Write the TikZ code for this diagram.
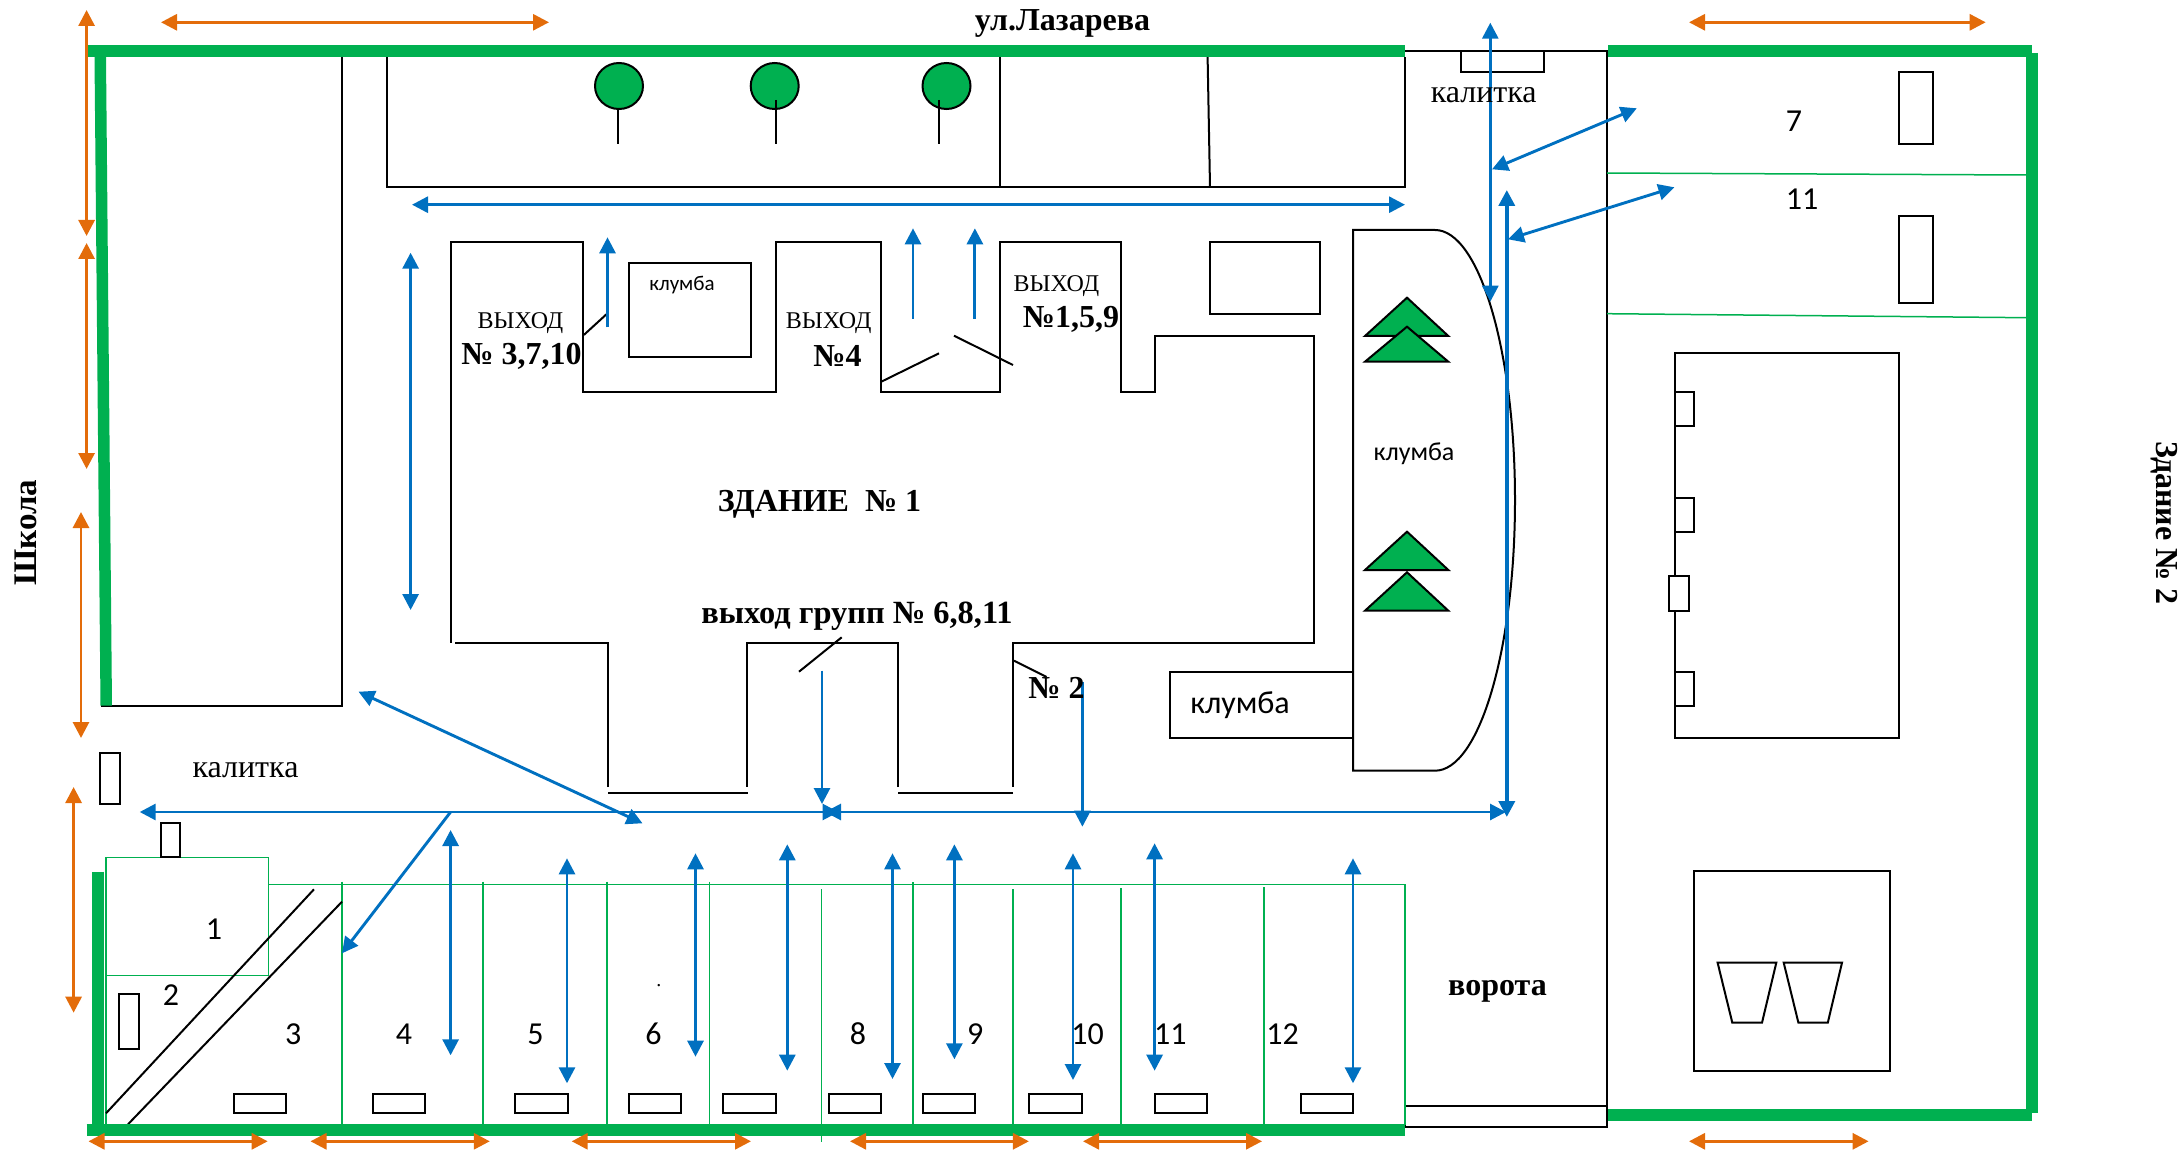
\documentclass[tikz,border=0pt]{standalone}
\usepackage{fontspec}
\setmainfont{Liberation Serif}
\setsansfont{Carlito}
\usetikzlibrary{arrows.meta}
\definecolor{fencegreen}{HTML}{00B050}
\definecolor{pathblue}{HTML}{0070C0}
\definecolor{carorange}{HTML}{E36C0A}
\tikzset{
  wall/.style={draw=black,line width=1pt},
  lotline/.style={draw=fencegreen,line width=0.75pt},
  fence/.style={draw=fencegreen,line width=6pt},
  fencev/.style={draw=fencegreen,line width=5.8pt},
  crown/.style={draw=black,line width=1pt,fill=fencegreen},
  bluedouble/.style={draw=pathblue,line width=1.45pt,{Triangle[length=8pt,width=8pt]}-{Triangle[length=8pt,width=8pt]}},
  blueone/.style={draw=pathblue,line width=1.45pt,-{Triangle[length=8pt,width=8pt]}},
  orangedouble/.style={draw=carorange,line width=1.45pt,{Triangle[length=8pt,width=8pt]}-{Triangle[length=8pt,width=8pt]}},
  txt/.style={inner sep=0pt,font=\fontsize{#1}{#1}\selectfont},
  txtb/.style={inner sep=0pt,font=\fontsize{#1}{#1}\selectfont\bfseries},
  txts/.style={inner sep=0pt,font=\fontsize{#1}{#1}\selectfont\sffamily},
}
\begin{document}
\begin{tikzpicture}[x=0.5pt,y=-0.5pt]
\useasboundingbox (0,0) rectangle (2180,1150);

% --- thin black structures, top
\draw[wall] (342,57) -- (342,705.7) -- (101,705.7);
\draw[wall] (387,57) -- (387,187) -- (1405,187) -- (1405,57);
\draw[wall] (999.5,57) -- (999.5,187);
\draw[wall] (1207.6,57) -- (1210,187);
\draw[wall] (1405,51) -- (1607,51) -- (1607,1126.7) -- (1405,1126.7) -- (1405,1106) -- (1607,1106);
\draw[wall] (1461,51) rectangle (1544,71.7);

% trees
\foreach \cx/\sx/\sy in {619/618/109,774.7/775.6/100,946.5/938.6/100}{
  \draw[crown] (\cx,86) ellipse [x radius=12pt,y radius=11.5pt];
  \draw[wall] (\sx,\sy) -- (\sx,144);
}

% --- building 1
\draw[wall] (450.6,642.7) -- (450.6,242.3) -- (583,242.3) -- (583,391.7) -- (775.6,391.7)
  -- (775.6,242.3) -- (880.8,242.3) -- (880.8,391.7) -- (1000,391.7) -- (1000,242.3)
  -- (1121,242.3) -- (1121,391.7) -- (1154.6,391.7) -- (1154.6,335.7) -- (1314,335.7)
  -- (1314,642.7) -- (1013,642.7) -- (1013,787);
\draw[wall] (1013,792.7) -- (898,792.7);
\draw[wall] (898,787) -- (898,642.7) -- (746.8,642.7) -- (746.8,787);
\draw[wall] (747.7,792.7) -- (607.5,792.7);
\draw[wall] (607.5,787) -- (607.5,642.7) -- (455,642.7);
% door leaves
\draw[wall] (583.8,335) -- (607.5,313.3);
\draw[wall] (881.3,381.7) -- (939,353.3);
\draw[wall] (954,335.7) -- (1013,365);
\draw[wall] (799,671.7) -- (841.7,637.3);
\draw[wall] (1014,660.7) -- (1046.6,677);

% flower beds
\draw[wall] (628.5,263.3) rectangle (751.4,356.7);
\draw[wall] (1210,242) rectangle (1320,314);
\draw[wall] (1353,671.7) -- (1170,671.7) -- (1170,738.3) -- (1353,738.3);
\draw[wall] (1353,230) -- (1435,230) .. controls (1479.2,230) and (1515,351) .. (1515,500)
  .. controls (1515,649.7) and (1479.2,770.7) .. (1435,770.7) -- (1353,770.7) -- cycle;
\foreach \ap/\ba in {297.7/336,326.7/361.7,531.7/570,572.3/610.7}{
  \draw[crown] (1407,\ap) -- (1448.3,\ba) -- (1365,\ba) -- cycle;
}

% --- right yard
\draw[wall] (1898.5,71.7) rectangle (1933.4,144);
\draw[wall] (1898.5,216) rectangle (1933.4,302.7);
\draw[wall] (1674.9,353.3) rectangle (1899,738.3);
\draw[wall] (1674.9,391.7) rectangle (1694,425.7);
\draw[wall] (1674.9,497.7) rectangle (1694,532);
\draw[wall,fill=white] (1669.4,576) rectangle (1688.6,610.7);
\draw[wall] (1674.9,671.7) rectangle (1694,705.7);
\draw[wall] (1693.7,871) rectangle (1889.8,1071.3);
\draw[wall] (1717.6,962.7) -- (1776.3,962.7) -- (1762,1022.7) -- (1732.3,1022.7) -- cycle;
\draw[wall] (1783.7,962.7) -- (1842,962.7) -- (1827.8,1022.7) -- (1798.4,1022.7) -- cycle;
\draw[lotline] (1607,173) -- (2026,175);
\draw[lotline] (1607,313.7) -- (2026,317.7);

% --- garages (green)
\draw[lotline] (106,857.3) rectangle (268.6,975.3);
\draw[lotline] (106,975) -- (106,1125);
\draw[lotline] (268.6,884.3) -- (1405,884.3) -- (1405,1125);
\foreach \gx/\gy in {342/881.7,482.8/881.7,607/881.7,709.5/881.7,913/882.3,1013/889,1121/888.3,1264/887.3}{
  \draw[lotline] (\gx,\gy) -- (\gx,1125);
}
\draw[lotline] (821.7,889) -- (821.7,1141.7);
\draw[wall] (106,1113.3) -- (314,889.3);
\draw[wall] (128,1124.3) -- (342,901.7);
\draw[wall] (100,752.7) rectangle (119.6,804.3);
\draw[wall] (160.6,823.3) rectangle (180.2,857.3);
\draw[wall] (118.7,994.3) rectangle (138.7,1048.7);
\foreach \ra/\rb in {233.7/286.3,372.9/425,515.4/567.5,629/681,723/776,828.7/881.3,922.7/974.9,1029.3/1082,1154.6/1206.7,1300.8/1353}{
  \draw[wall] (\ra,1093.7) rectangle (\rb,1113);
}

% --- thick fence
\fill[fencegreen] (94.5,57) -- (106,57) -- (112,705.7) -- (100.5,705.7) -- cycle;
\draw[fence] (86,51) -- (1405,51);
\draw[fence] (1608.3,51) -- (2031.6,51);
\draw[fencev] (2032,53) -- (2032,1112.7);
\draw[fence] (1608.3,1115) -- (2031.6,1115);
\draw[fencev] (98,871.7) -- (98,1125);
\draw[fence] (86.6,1130) -- (1405,1130);

% --- orange arrows
\draw[orangedouble] (161,22.3) -- (549,22.3);
\draw[orangedouble] (1689,22.3) -- (1985.7,22.3);
\draw[orangedouble] (86.6,10) -- (86.6,236);
\draw[orangedouble] (86.6,243) -- (86.6,469);
\draw[orangedouble] (81,512) -- (81,738);
\draw[orangedouble] (73.6,787) -- (73.6,1012.7);
\foreach \oa/\ob in {88.5/267.7,310.5/489.8,571.7/751,850/1028.9,1083/1262,1689/1868.6}{
  \draw[orangedouble] (\oa,1141.3) -- (\ob,1141.3);
}

% --- blue arrows
\draw[bluedouble] (412,204.7) -- (1405,204.7);
\draw[bluedouble] (410.6,252.7) -- (410.6,610);
\draw[blueone] (607.5,327.3) -- (607.5,237.3);
\draw[blueone] (913,318.7) -- (913,228.3);
\draw[blueone] (974.9,318.7) -- (974.9,228.3);
\draw[bluedouble] (1490.3,22.7) -- (1490.3,301.7);
\draw[bluedouble] (1492,169.3) -- (1636.8,108.3);
\draw[bluedouble] (1508,239.3) -- (1674.4,187.3);
\draw[bluedouble,line width=1.85pt] (1506.8,190) -- (1506.8,817);
\draw[bluedouble] (139.7,812) -- (838.5,812);
\draw[bluedouble] (825,812) -- (1506,812);
\draw[blueone] (1082.4,681.7) -- (1082.4,826.7);
\draw[blueone] (822,670.7) -- (822,804);
\draw[bluedouble] (358.5,691.7) -- (642.5,823.3);
\draw[blueone] (450.6,812) -- (342,953.3);
\foreach \bx/\ba/\bb in {450.6/830/1055.3,567/858.3/1083.3,695.5/853.3/1056.7,787.3/844.3/1070.7,892.5/853.3/1079,954.4/844.3/1059.3,1073/853.3/1080,1154.6/843.3/1070.7,1353/858.3/1083.3}{
  \draw[bluedouble] (\bx,\ba) -- (\bx,\bb);
}

% --- labels
\node[txtb=16] (street) at (1062.5,23) {ул.Лазарева};
\node[txt=16] (gatea) at (1483.7,95) {калитка};
\node[txt=16] (gateb) at (245.5,770) {калитка};
\node[txt=12] (exa) at (520.5,323) {ВЫХОД};
\node[txt=12] (exb) at (828.7,323) {ВЫХОД};
\node[txt=12] (exc) at (1056.4,286) {ВЫХОД};
\node[txtb=16] (noa) at (521.5,356) {№ 3,7,10};
\node[txtb=16] (nob) at (837.5,356) {№4};
\node[txtb=16] (noc) at (1071,319) {№1,5,9};
\node[txtb=16] (house) at (819.5,504) {ЗДАНИЕ\ \ № 1};
\node[txtb=16.2] (exd) at (857,616) {выход групп № 6,8,11};
\node[txtb=16] (noe) at (1056.5,688) {№ 2};
\node[txtb=16] (vorota) at (1497.5,991) {ворота};
\node[txtb=16.5,rotate=90] (school) at (25.5,532.7) {Школа};
\node[txtb=16,rotate=-90] (houseb) at (2164.7,523) {Здание № 2};
\node[txts=10.5] (beda) at (682,285) {клумба};
\node[txts=13] (bedb) at (1414,454) {клумба};
\node[txts=16] (bedc) at (1240,705) {клумба};
\foreach \nm/\tx/\px/\py in {a/1/214/929,b/2/170.9/995,c/3/293.3/1034,d/4/404/1034,e/5/535.4/1034,f/6/653.6/1034,h/8/858/1034,i/9/975.3/1034,j/10/1087.5/1034,k/11/1170.4/1034,l/12/1282.6/1034,m/7/1794/121.5,n/11/1802/199.5}{
  \node[txts=16] (num\nm) at (\px,\py) {\tx};
}
\node[txt=10] (dot) at (658.8,986) {.};
\end{tikzpicture}
\end{document}
